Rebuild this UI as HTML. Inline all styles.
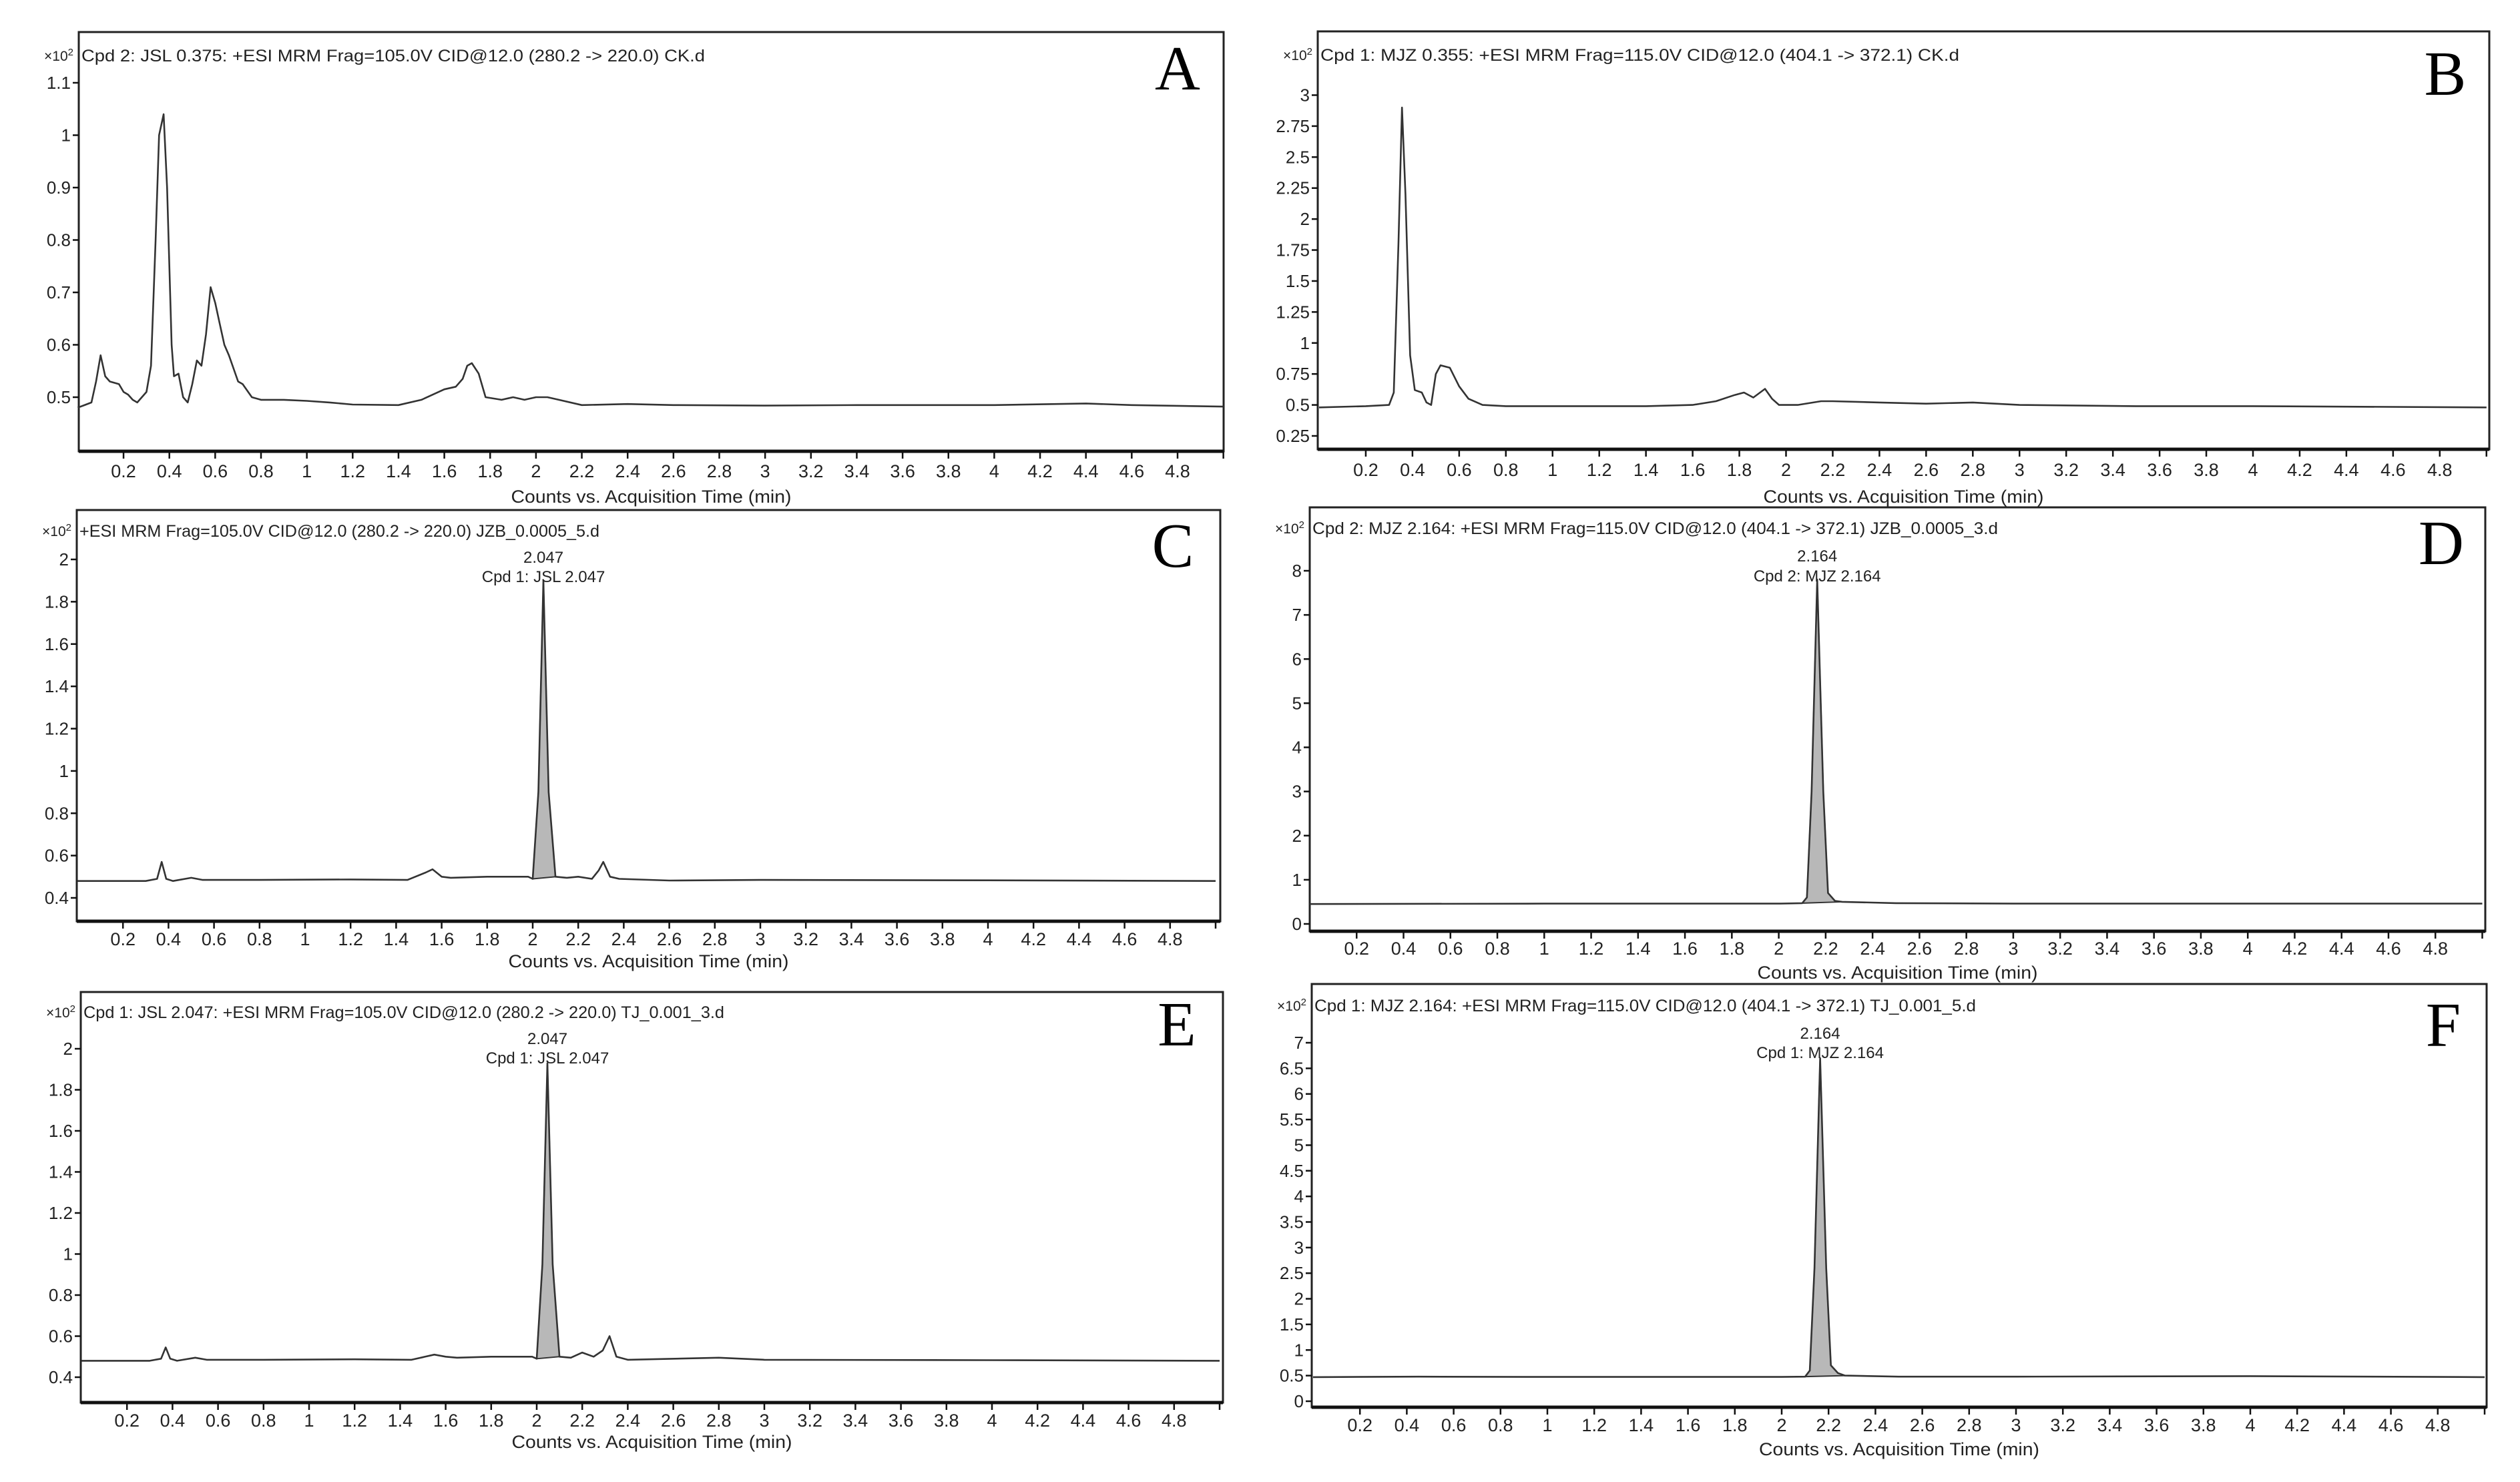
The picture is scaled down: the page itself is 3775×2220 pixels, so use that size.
<!DOCTYPE html>
<html><head><meta charset="utf-8"><style>
html,body{margin:0;padding:0;background:#fff;}
svg{display:block;font-family:"Liberation Sans",Arial,sans-serif;}
</style></head><body>
<svg id="fig" width="3775" height="2220" viewBox="0 0 3775 2220" xmlns="http://www.w3.org/2000/svg"></svg>
<script>
// ---- data (time in min, counts x10^2) ----
const xTickLabels = ["0.2","0.4","0.6","0.8","1","1.2","1.4","1.6","1.8","2","2.2","2.4","2.6","2.8","3","3.2","3.4","3.6","3.8","4","4.2","4.4","4.6","4.8"];
const tA = [0,0.06,0.08,0.1,0.12,0.14,0.18,0.2,0.22,0.24,0.26,0.28,0.3,0.32,0.34,0.355,0.375,0.39,0.41,0.42,0.44,0.46,0.48,0.5,0.52,0.54,0.56,0.58,0.6,0.62,0.64,0.66,0.7,0.72,0.76,0.8,0.9,1.0,1.1,1.2,1.4,1.5,1.55,1.6,1.65,1.68,1.7,1.72,1.75,1.78,1.85,1.9,1.95,2.0,2.05,2.1,2.2,2.4,2.6,3.0,3.4,4.0,4.4,4.6,5.0];
const vA = [0.48,0.49,0.53,0.58,0.54,0.53,0.525,0.51,0.505,0.495,0.49,0.5,0.51,0.56,0.8,1.0,1.04,0.9,0.6,0.54,0.545,0.5,0.49,0.525,0.57,0.56,0.62,0.71,0.68,0.64,0.6,0.58,0.53,0.525,0.5,0.495,0.495,0.493,0.49,0.486,0.485,0.495,0.505,0.515,0.52,0.535,0.56,0.565,0.545,0.5,0.495,0.5,0.495,0.5,0.5,0.495,0.485,0.487,0.485,0.484,0.485,0.485,0.488,0.485,0.482];
const tB = [0,0.2,0.3,0.32,0.34,0.355,0.37,0.39,0.41,0.44,0.46,0.48,0.5,0.52,0.56,0.6,0.64,0.7,0.8,1.0,1.4,1.6,1.7,1.78,1.82,1.86,1.91,1.94,1.97,2.05,2.15,2.2,2.4,2.6,2.8,3.0,3.5,4.0,5.0];
const vB = [0.48,0.49,0.5,0.6,1.8,2.9,2.2,0.9,0.62,0.6,0.52,0.5,0.75,0.82,0.8,0.65,0.55,0.5,0.49,0.49,0.49,0.5,0.53,0.58,0.6,0.56,0.63,0.55,0.5,0.5,0.53,0.53,0.52,0.51,0.52,0.5,0.49,0.49,0.48];
const tC = [0,0.3,0.35,0.37,0.39,0.42,0.5,0.55,0.8,1.2,1.45,1.53,1.56,1.6,1.64,1.8,1.98,2.0,2.025,2.047,2.07,2.1,2.15,2.2,2.26,2.29,2.31,2.34,2.38,2.6,3.0,4.0,5.0];
const vC = [0.48,0.48,0.49,0.57,0.49,0.48,0.495,0.485,0.485,0.487,0.485,0.52,0.535,0.5,0.495,0.5,0.5,0.49,0.9,1.9,0.9,0.5,0.495,0.5,0.49,0.53,0.57,0.5,0.49,0.482,0.485,0.483,0.48];
const tD = [0,1.0,2.0,2.1,2.12,2.14,2.164,2.19,2.21,2.24,2.27,2.5,3.0,4.0,5.0];
const vD = [0.45,0.46,0.46,0.47,0.6,3.0,7.8,3.0,0.7,0.52,0.5,0.47,0.46,0.46,0.46];
const tE = [0,0.3,0.35,0.37,0.39,0.42,0.5,0.55,0.8,1.2,1.45,1.55,1.6,1.65,1.8,1.98,2.0,2.025,2.047,2.07,2.1,2.15,2.2,2.25,2.29,2.32,2.35,2.4,2.8,3.0,4.0,5.0];
const vE = [0.48,0.48,0.49,0.545,0.49,0.48,0.495,0.485,0.485,0.487,0.485,0.51,0.5,0.495,0.5,0.5,0.49,0.95,1.93,0.95,0.5,0.495,0.52,0.5,0.53,0.6,0.5,0.485,0.495,0.485,0.483,0.48];
const tF = [0,0.45,1.0,2.0,2.1,2.12,2.14,2.164,2.19,2.21,2.24,2.27,2.5,3.0,4.0,5.0];
const vF = [0.47,0.48,0.475,0.475,0.48,0.6,2.6,6.7,2.6,0.7,0.55,0.5,0.48,0.48,0.49,0.47];
const yTicksA = [0.5,0.6,0.7,0.8,0.9,1,1.1];
const yTicksB = [0.25,0.5,0.75,1,1.25,1.5,1.75,2,2.25,2.5,2.75,3];
const yTicksC = [0.4,0.6,0.8,1,1.2,1.4,1.6,1.8,2];
const yTicksD = [0,1,2,3,4,5,6,7,8];
const yTicksF = [0,0.5,1,1.5,2,2.5,3,3.5,4,4.5,5,5.5,6,6.5,7];

const panels = [
 {id:"a",letter:"A",f:[118,48,1833,676],x0:116.4,xs:343.25,ya:[1.1,124],yb:[0.5,595],yt:yTicksA,lab:705,tit:743,hd:83,hdw:934,
  header:"Cpd 2: JSL 0.375: +ESI MRM Frag=105.0V CID@12.0 (280.2 -> 220.0) CK.d",t:tA,v:vA,lx:1764,ly:134},
 {id:"b",letter:"B",f:[1974,47,3729,673],x0:1976,xs:349.75,ya:[3,142.5],yb:[0.25,653],yt:yTicksB,lab:703,tit:743,hd:82,hdw:957,
  header:"Cpd 1: MJZ 0.355: +ESI MRM Frag=115.0V CID@12.0 (404.1 -> 372.1) CK.d",t:tB,v:vB,lx:3663,ly:142},
 {id:"c",letter:"C",f:[115,764,1828,1380],x0:116,xs:341,ya:[2,838],yb:[0.4,1345],yt:yTicksC,lab:1406,tit:1439,hd:795,hdw:779,
  header:"+ESI MRM Frag=105.0V CID@12.0 (280.2 -> 220.0) JZB_0.0005_5.d",t:tC,v:vC,lx:1757,ly:849,
  pk:2.047,pkLabel:["2.047","Cpd 1: JSL 2.047"],an:[834,863],fill:[2.0,2.1]},
 {id:"d",letter:"D",f:[1962,760,3723,1395],x0:1962,xs:351.3,ya:[8,855],yb:[0,1384],yt:yTicksD,lab:1420,tit:1456,hd:791,hdw:1027,
  header:"Cpd 2: MJZ 2.164: +ESI MRM Frag=115.0V CID@12.0 (404.1 -> 372.1) JZB_0.0005_3.d",t:tD,v:vD,lx:3657,ly:845,
  pk:2.164,pkLabel:["2.164","Cpd 2: MJZ 2.164"],an:[832,862],fill:[2.1,2.27]},
 {id:"e",letter:"E",f:[121,1486,1832,2101],x0:122,xs:341,ya:[2,1571],yb:[0.4,2063],yt:yTicksC,lab:2127,tit:2159,hd:1516,hdw:960,
  header:"Cpd 1: JSL 2.047: +ESI MRM Frag=105.0V CID@12.0 (280.2 -> 220.0) TJ_0.001_3.d",t:tE,v:vE,lx:1763,ly:1566,
  pk:2.047,pkLabel:["2.047","Cpd 1: JSL 2.047"],an:[1555,1584],fill:[2.0,2.1]},
 {id:"f",letter:"F",f:[1965,1474,3725,2108],x0:1967,xs:351,ya:[7,1562],yb:[0,2099],yt:yTicksF,lab:2134,tit:2170,hd:1506,hdw:991,
  header:"Cpd 1: MJZ 2.164: +ESI MRM Frag=115.0V CID@12.0 (404.1 -> 372.1) TJ_0.001_5.d",t:tF,v:vF,lx:3660,ly:1567,
  pk:2.164,pkLabel:["2.164","Cpd 1: MJZ 2.164"],an:[1547,1576],fill:[2.1,2.27]}
];

const NS="http://www.w3.org/2000/svg";
const svg=document.getElementById("fig");
function mk(tag,attrs,parent,text){const e=document.createElementNS(NS,tag);for(const k in attrs)e.setAttribute(k,attrs[k]);if(text!==undefined)e.textContent=text;parent.appendChild(e);return e;}

panels.forEach(p=>{
  const [L,T,R,B]=p.f;
  const X=t=>p.x0+t*p.xs;
  const Y=v=>p.ya[1]+(v-p.ya[0])*(p.yb[1]-p.ya[1])/(p.yb[0]-p.ya[0]);
  const g=mk("g",{},svg);
  
  
  const fr=mk("rect",{x:L,y:T,width:R-L,height:B-T,fill:"#fff",stroke:"#222","stroke-width":3},g);
  
  
  const ax=mk("line",{x1:L,y1:B,x2:R,y2:B,stroke:"#111","stroke-width":5},g);
  
  
  for(let i=1;i<=25;i++){
    const t=i*0.2, x=X(t);
    const tk=mk("line",{x1:x,y1:B,x2:x,y2:B+11,stroke:"#111","stroke-width":2.5},g);
    
    
  }
  xTickLabels.forEach((s,i)=>{
    const tl=mk("text",{x:X((i+1)*0.2),y:p.lab+10,"font-size":27,"text-anchor":"middle",fill:"#222"},g,s);
    
    
  });
  const at=mk("text",{x:(L+R)/2,y:p.tit+10,"font-size":27,"text-anchor":"middle",fill:"#222",textLength:420,lengthAdjust:"spacingAndGlyphs"},g,"Counts vs. Acquisition Time (min)");
  
  
  p.yt.forEach(v=>{
    const y=Y(v);
    const tk=mk("line",{x1:L-9,y1:y,x2:L,y2:y,stroke:"#111","stroke-width":2.5},g);
    
    
    const tl=mk("text",{x:L-12,y:y+9,"font-size":26,"text-anchor":"end",fill:"#222"},g,String(v));
    
    
  });
  const sc=mk("text",{x:L-8,y:p.hd+8,"font-size":21,"text-anchor":"end",fill:"#222"},g);
  
  
  sc.textContent="×10";
  mk("tspan",{dy:-8,"font-size":15},sc,"2");
  const hd=mk("text",{x:L+4,y:p.hd+9,"font-size":25,fill:"#222",textLength:p.hdw,lengthAdjust:"spacingAndGlyphs"},g,p.header);
  
  
  if(p.fill){
    let pts=[];
    p.t.forEach((t,i)=>{if(t>=p.fill[0]-1e-9&&t<=p.fill[1]+1e-9)pts.push(X(t)+","+Y(p.v[i]));});
    const pf=mk("polygon",{points:pts.join(" "),fill:"#b8b8b8",stroke:"#333","stroke-width":2},g);
    
    
  }
  const d=p.t.map((t,i)=>(i?"L":"M")+X(t).toFixed(1)+","+Y(p.v[i]).toFixed(1)).join(" ");
  const tr=mk("path",{d:d,fill:"none",stroke:"#333","stroke-width":2.6,"stroke-linejoin":"round"},g);
  
  
  if(p.pk){
    const a1=mk("text",{x:X(p.pk),y:p.an[0]+9,"font-size":24,"text-anchor":"middle",fill:"#222"},g,p.pkLabel[0]);
    
    
    const a2=mk("text",{x:X(p.pk),y:p.an[1]+9,"font-size":24,"text-anchor":"middle",fill:"#222"},g,p.pkLabel[1]);
    
    
  }
  const lt=mk("text",{x:p.lx,y:p.ly,"font-size":94,"text-anchor":"middle",fill:"#000","font-family":"Liberation Serif, serif"},g,p.letter);
  
  
});
</script>
</body></html>
